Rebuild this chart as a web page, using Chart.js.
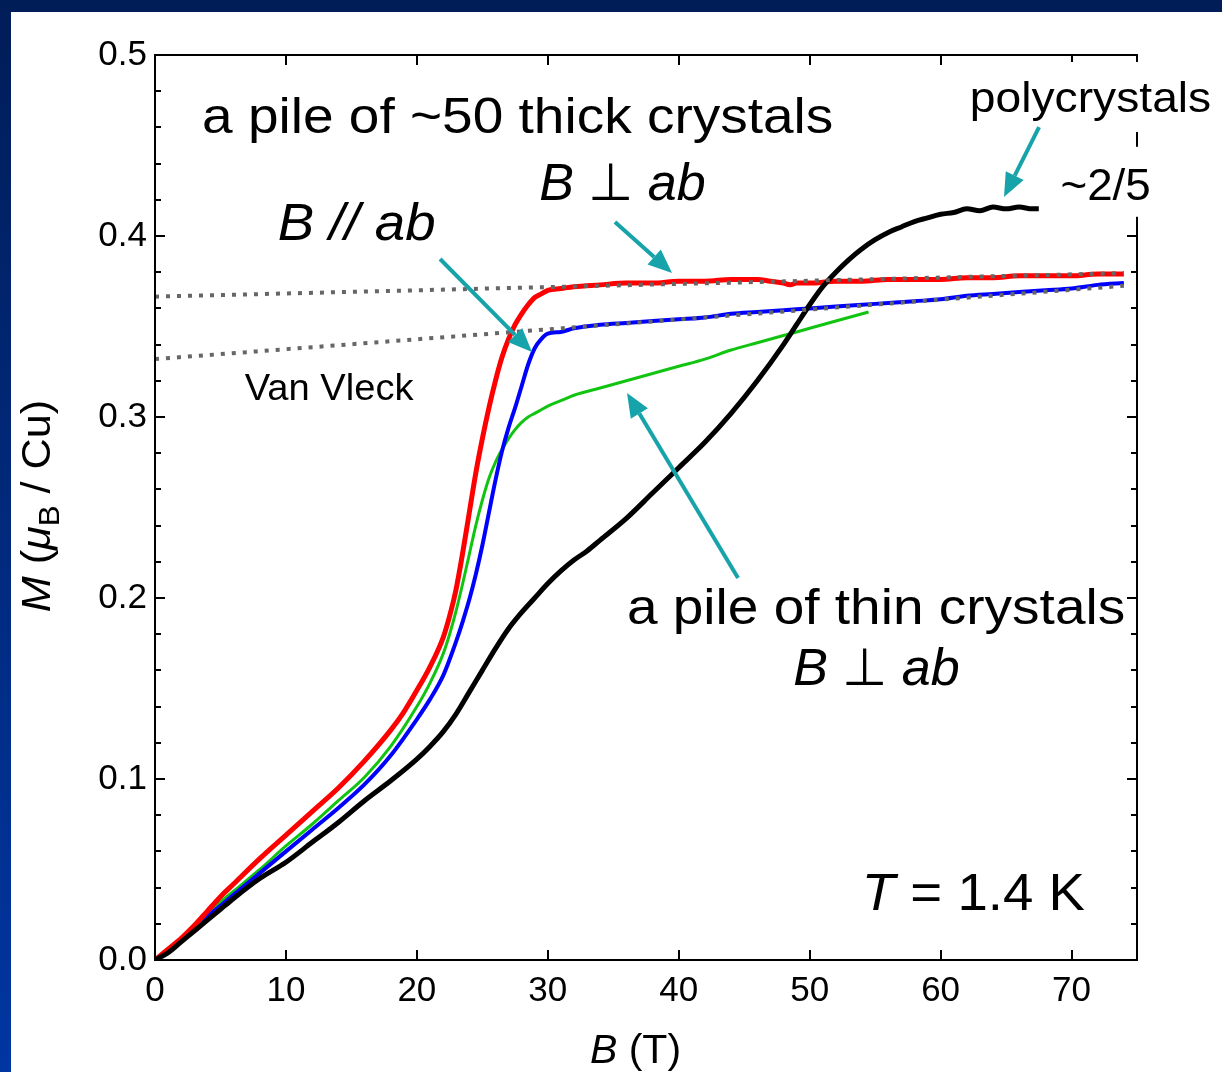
<!DOCTYPE html>
<html>
<head>
<meta charset="utf-8">
<script src="https://cdn.jsdelivr.net/npm/chart.js@4.4.1/dist/chart.umd.min.js"></script>
<style>
  html, body { margin: 0; padding: 0; }
  body { width: 1222px; height: 1072px; position: relative; overflow: hidden;
         background: linear-gradient(180deg, #011d58 0%, #0036a2 100%); }
  #panel { position: absolute; left: 11px; top: 12px; right: 0; bottom: 0; background: #fff; }
  #magChart { position: absolute; left: 0; top: 0; }
</style>
</head>
<body>
<div id="panel"></div>
<canvas id="magChart" width="1222" height="1072"></canvas>
<script>
// M(B) at T = 1.4 K
const thickPerpB = [0,1,2,3,4,5,6,8,10,12,14,16,18,19,20,21,22,22.5,23,23.5,24,24.5,25,25.5,26,26.5,27,27.5,28,28.5,29,29.5,30,31,32,34,36,38,40,42,44,46,47,48,48.5,49,50,52,54,56,58,60,62,64,66,68,70,72,74];
const thickPerpM = [0,0.006,0.012,0.019,0.027,0.035,0.042,0.056,0.069,0.082,0.095,0.110,0.127,0.137,0.149,0.162,0.178,0.190,0.205,0.225,0.247,0.269,0.288,0.305,0.320,0.333,0.343,0.351,0.357,0.362,0.366,0.368,0.370,0.371,0.372,0.373,0.374,0.374,0.375,0.375,0.376,0.376,0.375,0.374,0.373,0.374,0.374,0.375,0.375,0.376,0.376,0.376,0.377,0.377,0.378,0.378,0.378,0.379,0.379];

const thickParB = [0,1,2,3,4,5,6,8,10,12,14,16,18,20,21,22,22.5,23,23.5,24,24.5,25,25.5,26,26.5,27,27.5,28,28.5,29,29.5,30,31,32,34,36,38,40,42,44,46,48,50,52,54,56,58,60,62,64,66,68,70,72,74];
const thickParM = [0,0.005,0.011,0.017,0.024,0.030,0.036,0.048,0.060,0.072,0.084,0.097,0.113,0.133,0.144,0.157,0.166,0.176,0.187,0.199,0.213,0.229,0.247,0.265,0.281,0.294,0.305,0.317,0.329,0.338,0.343,0.346,0.347,0.349,0.351,0.352,0.353,0.354,0.355,0.357,0.358,0.359,0.360,0.361,0.362,0.363,0.364,0.365,0.367,0.368,0.369,0.370,0.371,0.373,0.374];

const thinPerpB = [0,1,2,3,4,5,6,8,10,12,14,16,18,20,21,22,22.5,23,23.5,24,24.5,25,25.5,26,26.5,27,27.5,28,28.5,29,29.5,30,31,32,34,36,38,40,42,44,46,48,50,52,54.5];
const thinPerpM = [0,0.006,0.012,0.018,0.025,0.032,0.038,0.050,0.063,0.075,0.088,0.101,0.118,0.140,0.153,0.169,0.180,0.193,0.208,0.224,0.240,0.254,0.266,0.275,0.282,0.288,0.293,0.297,0.300,0.302,0.304,0.306,0.309,0.312,0.316,0.320,0.324,0.328,0.332,0.337,0.341,0.345,0.349,0.353,0.358];

const polyB = [0,1,2,3,4,5,6,8,10,12,14,16,18,20,21,22,23,24,25,26,27,28,29,30,31,32,33,34,36,38,40,42,44,46,48,49,50,51,52,53,54,55,56,57,58,59,60,61,62,63,64,65,66,67,67.5];
const polyM = [0,0.004,0.010,0.016,0.022,0.028,0.034,0.045,0.054,0.065,0.076,0.088,0.099,0.111,0.118,0.126,0.136,0.148,0.160,0.172,0.183,0.192,0.200,0.208,0.215,0.221,0.226,0.232,0.244,0.258,0.272,0.286,0.302,0.320,0.340,0.351,0.362,0.372,0.380,0.387,0.393,0.398,0.402,0.405,0.408,0.410,0.412,0.413,0.415,0.414,0.416,0.415,0.416,0.415,0.415];

const vanVleckB = [0, 74];
const vanVleckPerpM = [0.3665, 0.3795];
const vanVleckParM = [0.332, 0.3725];

const fieldMin = 0, fieldMax = 75, fieldStep = 10;
const momentMin = 0, momentMax = 0.5, momentStep = 0.1, momentMinor = 0.02;

const fontFam = '"Liberation Sans", Arial, Helvetica, sans-serif';
const teal = '#17a3aa';

// annotations in data coordinates: [parts, B, M, size, stretch]
const labels = [
  [[['a pile of ~50 thick crystals', '']], 27.7, 0.457, 50, 1.1],
  [[['B', 'i'], [' \u22a5 ', ''], ['ab', 'i']], 35.7, 0.420, 52, 1.0],
  [[['B', 'i'], [' // ', 'i'], ['ab', 'i']], 15.4, 0.398, 52, 1.05],
  [[['polycrystals', '']], 71.45, 0.4685, 42, 1.1],
  [[['~2/5', '']], 72.6, 0.420, 44, 1.04],
  [[['Van Vleck', '']], 13.3, 0.3094, 37, 1.03],
  [[['a pile of thin crystals', '']], 55.07, 0.1856, 50, 1.1],
  [[['B', 'i'], [' \u22a5 ', ''], ['ab', 'i']], 55.1, 0.1519, 52, 1.0],
  [[['T', 'i'], [' = 1.4 K', '']], 62.5, 0.0276, 52, 1.05]
];
// arrows: tail B, tail M, tip B, tip M
const arrows = [
  [35.13, 0.4077, 39.49, 0.3796],
  [21.77, 0.3873, 28.79, 0.3359],
  [44.53, 0.2110, 36.05, 0.3133],
  [67.52, 0.4602, 64.84, 0.4215]
];

function pts(xs, ys) { return xs.map((b, i) => ({x: b, y: ys[i]})); }

function fontFor(style, size) {
  if (style === 'i') return 'italic ' + size + 'px ' + fontFam;
  if (style === 'sub') return Math.round(size * 0.72) + 'px ' + fontFam;
  return size + 'px ' + fontFam;
}

function drawRich(ctx, parts, x, y, size, stretch) {
  const widths = parts.map(p => { ctx.font = fontFor(p[1], size); return ctx.measureText(p[0]).width; });
  const total = widths.reduce((a, b) => a + b, 0) * stretch;
  ctx.save();
  ctx.translate(x - total / 2, y);
  ctx.scale(stretch, 1);
  ctx.textAlign = 'left';
  ctx.textBaseline = 'alphabetic';
  let cx = 0;
  parts.forEach((p, i) => {
    ctx.font = fontFor(p[1], size);
    ctx.fillText(p[0], cx, p[1] === 'sub' ? size * 0.22 : 0);
    cx += widths[i];
  });
  ctx.restore();
}

function drawArrow(ctx, x1, y1, x2, y2) {
  const ang = Math.atan2(y2 - y1, x2 - x1);
  const len = 24, hw = 10;
  const bx = x2 - len * Math.cos(ang), by = y2 - len * Math.sin(ang);
  ctx.beginPath();
  ctx.moveTo(x1, y1);
  ctx.lineTo(bx, by);
  ctx.stroke();
  ctx.beginPath();
  ctx.moveTo(x2, y2);
  ctx.lineTo(bx + hw * Math.sin(ang), by - hw * Math.cos(ang));
  ctx.lineTo(bx - hw * Math.sin(ang), by + hw * Math.cos(ang));
  ctx.closePath();
  ctx.fill();
}

const axisFrame = {
  id: 'axisFrame',
  afterDatasetsDraw(chart) {
    const {ctx, chartArea: a, scales: {x, y}} = chart;
    ctx.save();
    ctx.strokeStyle = '#000';
    ctx.lineWidth = 2;
    ctx.strokeRect(a.left, a.top, a.right - a.left, a.bottom - a.top);
    ctx.beginPath();
    x.ticks.forEach(t => {
      const px = Math.round(x.getPixelForValue(t.value));
      ctx.moveTo(px, a.bottom); ctx.lineTo(px, a.bottom - 10);
      ctx.moveTo(px, a.top); ctx.lineTo(px, a.top + 10);
    });
    const n = Math.round((momentMax - momentMin) / momentMinor);
    for (let i = 0; i <= n; i++) {
      const v = momentMin + i * momentMinor;
      const py = Math.round(y.getPixelForValue(v));
      const len = (i % 5 === 0) ? 10 : 6;
      ctx.moveTo(a.left, py); ctx.lineTo(a.left + len, py);
      ctx.moveTo(a.right, py); ctx.lineTo(a.right - len, py);
    }
    ctx.stroke();
    ctx.restore();
  },
  afterDraw(chart) {
    const {ctx, chartArea: a, scales: {x, y}} = chart;
    ctx.save();
    // white boxes behind the labels that sit over the right axis
    ctx.fillStyle = '#fff';
    ctx.fillRect(x.getPixelForValue(71.45) - 125, y.getPixelForValue(0.4685) - 50, 250, 70);
    ctx.fillRect(x.getPixelForValue(72.6) - 50, y.getPixelForValue(0.420) - 53, 100, 70);
    ctx.strokeStyle = teal;
    ctx.fillStyle = teal;
    ctx.lineWidth = 4;
    arrows.forEach(r => drawArrow(ctx, x.getPixelForValue(r[0]), y.getPixelForValue(r[1]),
                                       x.getPixelForValue(r[2]), y.getPixelForValue(r[3])));
    ctx.fillStyle = '#000';
    labels.forEach(l => drawRich(ctx, l[0], x.getPixelForValue(l[1]), y.getPixelForValue(l[2]), l[3], l[4]));
    // axis titles
    drawRich(ctx, [['B', 'i'], [' (T)', '']], x.getPixelForValue(36.7), 1063, 41, 1.0);
    ctx.translate(50, y.getPixelForValue(0.2508));
    ctx.rotate(-Math.PI / 2);
    drawRich(ctx, [['M', 'i'], [' (', ''], ['\u03bc', 'i'], ['B', 'sub'], [' / Cu)', '']], 0, 0, 40, 1.08);
    ctx.restore();
  }
};

const lineStyle = {pointRadius: 0, fill: false, cubicInterpolationMode: 'monotone'};

new Chart(document.getElementById('magChart'), {
  type: 'line',
  data: {
    datasets: [
      Object.assign({label: 'Van Vleck (B \u22a5 ab)', data: pts(vanVleckB, vanVleckPerpM), borderColor: '#666',
        borderWidth: 4, borderDash: [4, 7], order: 0}, lineStyle),
      Object.assign({label: 'Van Vleck (B // ab)', data: pts(vanVleckB, vanVleckParM), borderColor: '#666',
        borderWidth: 4, borderDash: [4, 7], order: 0}, lineStyle),
      Object.assign({label: 'polycrystals', data: pts(polyB, polyM), borderColor: '#000',
        borderWidth: 5, order: 1}, lineStyle),
      Object.assign({label: 'thick crystals B \u22a5 ab', data: pts(thickPerpB, thickPerpM), borderColor: '#ff0000',
        borderWidth: 5, order: 2}, lineStyle),
      Object.assign({label: 'thick crystals B // ab', data: pts(thickParB, thickParM), borderColor: '#0000ff',
        borderWidth: 4, order: 3}, lineStyle),
      Object.assign({label: 'thin crystals B \u22a5 ab', data: pts(thinPerpB, thinPerpM), borderColor: '#11c411',
        borderWidth: 3, order: 4}, lineStyle)
    ]
  },
  options: {
    responsive: false,
    animation: false,
    devicePixelRatio: 1,
    layout: {padding: {top: 55, right: 85, left: 0, bottom: 0}},
    plugins: {legend: {display: false}, tooltip: {enabled: false}},
    scales: {
      x: {
        type: 'linear', min: fieldMin, max: fieldMax,
        grid: {display: false, drawTicks: false}, border: {display: false},
        ticks: {stepSize: fieldStep, includeBounds: false, color: '#000', padding: 10,
                maxRotation: 0, font: {family: fontFam, size: 35}},
        afterFit: s => { s.height = 112; }
      },
      y: {
        type: 'linear', min: momentMin, max: momentMax,
        grid: {display: false, drawTicks: false}, border: {display: false},
        ticks: {stepSize: momentStep, color: '#000', padding: 8, font: {family: fontFam, size: 35},
                callback: v => v.toFixed(1)},
        afterFit: s => { s.width = 155; }
      }
    }
  },
  plugins: [axisFrame]
});
</script>
</body>
</html>
